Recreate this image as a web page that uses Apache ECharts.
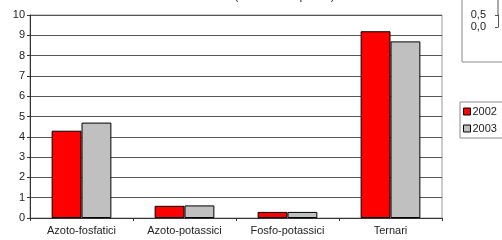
<!DOCTYPE html>
<html>
<head>
<meta charset="utf-8">
<script src="https://cdn.jsdelivr.net/npm/echarts@6/dist/echarts.min.js"></script>
<style>
  html, body { margin: 0; padding: 0; background: #fff; }
  #chart { width: 502px; height: 240px; }
</style>
</head>
<body>
<div id="chart"></div>
<script>
const categories = ['Azoto-fosfatici', 'Azoto-potassici', 'Fosfo-potassici', 'Ternari']
const values2002 = [4.3, 0.6, 0.3, 9.2]
const values2003 = [4.7, 0.62, 0.3, 8.7]
const seriesNames = ['2002', '2003']
const chartTitle = 'Anni 2002 e 2003 (in milioni di quintali)'
// the small chart cut off in the top right corner
const insetRange = [0, 0.5]

const font = 'Liberation Sans, Arial, sans-serif'

const chart = echarts.init(document.getElementById('chart'))

chart.setOption({
  animation: false,
  backgroundColor: '#fff',
  legend: {
    orient: 'vertical',
    left: 460,
    top: 102,
    icon: 'rect',
    itemWidth: 7,
    itemHeight: 7,
    itemGap: 6,
    padding: [4, 20, 4, 3],
    borderColor: '#888',
    borderWidth: 1,
    data: seriesNames,
    textStyle: { fontFamily: font, fontSize: 11, color: '#222', padding: [0, 0, 0, -3] },
    itemStyle: { borderColor: '#000', borderWidth: 1 },
  },
  graphic: [
    {
      // title is cut off by the top edge of the picture
      type: 'text',
      x: 240,
      y: -9,
      style: {
        text: chartTitle,
        textAlign: 'center',
        fontFamily: font,
        fontSize: 11,
        fill: '#222',
      },
    },
    {
      type: 'rect',
      shape: { x: 462, y: -5, width: 60, height: 67 },
      style: { fill: 'none', stroke: '#888', lineWidth: 1 },
    },
    {
      type: 'line',
      shape: { x1: 498, y1: 0, x2: 498, y2: 15 },
      style: { stroke: '#555', lineWidth: 1 },
    },
  ],
  grid: [
    {
      left: 30,
      right: 60,
      top: 15,
      bottom: 22,
      show: true,
      borderColor: '#999',
      borderWidth: 1,
      backgroundColor: '#fff',
    },
    {
      left: 498,
      width: 20,
      top: 15,
      height: 12,
    },
  ],
  xAxis: [
    {
      type: 'category',
      gridIndex: 0,
      data: categories,
      axisLine: { lineStyle: { color: '#333', width: 1 } },
      axisTick: { show: true, length: 3, lineStyle: { color: '#333' } },
      axisLabel: { fontFamily: font, fontSize: 11, color: '#222', margin: 7 },
    },
    {
      type: 'value',
      gridIndex: 1,
      show: false,
    },
  ],
  yAxis: [
    {
      type: 'value',
      gridIndex: 0,
      min: 0,
      max: 10,
      interval: 1,
      axisLine: { show: true, lineStyle: { color: '#333', width: 1 } },
      axisTick: { show: true, length: 3, lineStyle: { color: '#333' } },
      axisLabel: { fontFamily: font, fontSize: 11, color: '#222', margin: 5 },
      splitLine: { lineStyle: { color: '#555', width: 1 } },
    },
    {
      type: 'value',
      gridIndex: 1,
      min: insetRange[0],
      max: insetRange[1],
      interval: 0.5,
      axisLine: { show: true, lineStyle: { color: '#555' } },
      axisTick: { show: true, length: 3, lineStyle: { color: '#555' } },
      axisLabel: {
        fontFamily: font, fontSize: 11, color: '#222', margin: 12,
        formatter: (v) => v.toFixed(1).replace('.', ','),
      },
      splitLine: { show: false },
    },
  ],
  series: [
    {
      name: seriesNames[0],
      type: 'bar',
      data: values2002,
      barGap: '0%',
      barCategoryGap: '42%',
      itemStyle: { color: '#ff0000', borderColor: '#000', borderWidth: 1 },
    },
    {
      name: seriesNames[1],
      type: 'bar',
      data: values2003,
      barGap: '0%',
      barCategoryGap: '42%',
      itemStyle: { color: '#c0c0c0', borderColor: '#000', borderWidth: 1 },
    },
  ],
})
</script>
</body>
</html>
